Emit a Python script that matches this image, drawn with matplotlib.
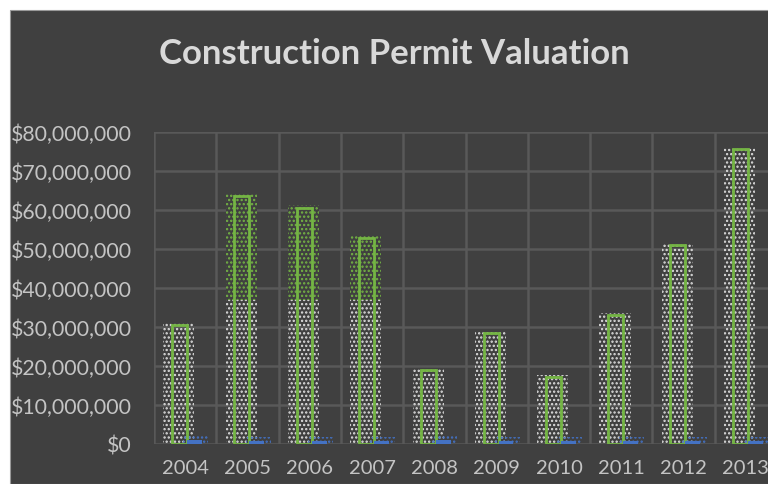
import matplotlib.pyplot as plt
from matplotlib.patches import Rectangle
from matplotlib.ticker import FuncFormatter, MultipleLocator
import numpy as np

# Valeurs
years = ['2004', '2005', '2006', '2007', '2008', '2009', '2010', '2011', '2012', '2013']
valuation = [30.5e6, 63.6e6, 60.6e6, 52.8e6, 19.0e6, 28.4e6, 17.1e6, 33.0e6, 51.0e6, 75.6e6]
permits = [0.9e6, 0.8e6, 0.8e6, 0.8e6, 0.9e6, 0.8e6, 0.8e6, 0.8e6, 0.8e6, 0.8e6]

# effet "pointillé" vert en haut de certaines barres
green_dot_years = ['2005', '2006', '2007']
green_dot_start = 37e6

BG = '#404040'
GRID = '#595959'
GREEN = '#74b544'
BLUE = '#4472c4'
TEXT = '#c4c4c4'

plt.rcParams['font.family'] = ['Lato', 'DejaVu Sans']
plt.rcParams['hatch.linewidth'] = 1.1

fig = plt.figure(figsize=(7.68, 4.85), dpi=100, facecolor='white')
fig.patches.append(Rectangle((10 / 768, 0), 1, 1 - 11 / 485, transform=fig.transFigure,
                             facecolor=BG, edgecolor='#9a9a9a', linewidth=0.8, zorder=-10))

ax = fig.add_axes([154 / 768, 40 / 485, 623 / 768, 312 / 485])
ax.set_facecolor(BG)

x = np.arange(len(years))

# halo de points blancs autour des barres vertes
ax.bar(x - 0.1, np.array(valuation) + 0.6e6, width=0.5, color='none',
       edgecolor='#e0e0e0', hatch='....', linewidth=0, zorder=2)
for i, y in enumerate(years):
    if y in green_dot_years:
        ax.bar(x[i] - 0.1, valuation[i] + 0.6e6 - green_dot_start, bottom=green_dot_start,
               width=0.5, color=BG, edgecolor=GREEN, hatch='....', linewidth=0, zorder=2.5)

# barres principales (contour vert)
ax.bar(x - 0.09, valuation, width=0.24, color='none', edgecolor=GREEN, linewidth=2, zorder=3)

# petites barres bleues + points
ax.bar(x + 0.17, np.array(permits) * 2.2, width=0.4, color='none',
       edgecolor=BLUE, hatch='....', linewidth=0, zorder=2)
ax.bar(x + 0.15, permits, width=0.24, color=BLUE, linewidth=0, zorder=3)

ax.set_xlim(-0.5, len(years) - 0.5)
ax.set_ylim(0, 80e6)
ax.yaxis.set_major_locator(MultipleLocator(10e6))
ax.yaxis.set_major_formatter(FuncFormatter(lambda v, p: f'${v:,.0f}'))
ax.set_xticks(x)
ax.set_xticklabels(years)
ax.set_xticks(np.arange(-0.5, len(years), 1), minor=True)

ax.grid(axis='y', which='major', color=GRID, linewidth=1.8, zorder=1)
ax.grid(axis='x', which='minor', color=GRID, linewidth=1.8, zorder=1)
ax.grid(axis='x', which='major', visible=False)
ax.set_axisbelow(True)

ax.tick_params(axis='both', which='both', length=0, colors=TEXT)
ax.tick_params(axis='y', pad=16, labelsize=15.3)
ax.tick_params(axis='x', pad=11, labelsize=14.5)
for s in ax.spines.values():
    s.set_visible(False)

fig.text(394 / 768, 1 - 54 / 485, 'Construction Permit Valuation', ha='center', va='center',
         fontsize=25, fontweight='bold', color='#d9d9d9')

fig.savefig('out.png', dpi=100, facecolor=fig.get_facecolor())
